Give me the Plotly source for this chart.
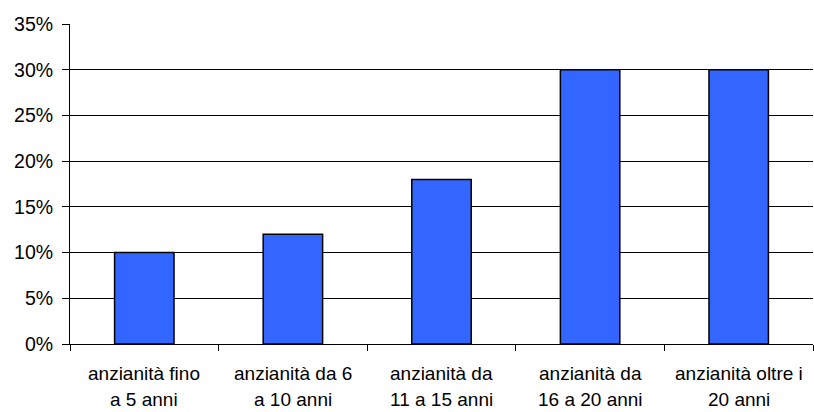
import plotly.graph_objects as go

cat_line1 = ["anzianità fino", "anzianità da 6", "anzianità da", "anzianità da", "anzianità oltre i"]
cat_line2 = ["a 5 anni", "a 10 anni", "11 a 15 anni", "16 a 20 anni", "20 anni"]
values = [0.10, 0.12, 0.18, 0.30, 0.30]
y_ticks = [0, 0.05, 0.10, 0.15, 0.20, 0.25, 0.30, 0.35]
y_labels = ["0%", "5%", "10%", "15%", "20%", "25%", "30%", "35%"]

xs = list(range(len(values)))
FONT = "Liberation Sans, Arial"

fig = go.Figure(go.Bar(
    x=xs, y=values, width=0.4,
    marker=dict(color="#3366FF", line=dict(color="#000000", width=1.5)),
    hoverinfo="skip",
))

annotations = []
for i, (a, b) in enumerate(zip(cat_line1, cat_line2)):
    annotations.append(dict(x=i, y=0, xref="x", yref="paper", text=a, showarrow=False,
                            yanchor="middle", xanchor="center", yshift=-29,
                            font=dict(size=19, family=FONT, color="black")))
    annotations.append(dict(x=i, y=0, xref="x", yref="paper", text=b, showarrow=False,
                            yanchor="middle", xanchor="center", yshift=-55,
                            font=dict(size=19, family=FONT, color="black")))

fig.update_layout(
    width=814, height=412,
    margin=dict(l=70, r=1, t=24, b=68, autoexpand=False),
    paper_bgcolor="white", plot_bgcolor="white",
    showlegend=False,
    font=dict(family=FONT, color="black"),
    annotations=annotations,
)
fig.update_xaxes(
    range=[-0.5, 4.5], tickmode="array", tickvals=[-0.5, 0.5, 1.5, 2.5, 3.5, 4.5],
    showticklabels=False, ticks="outside", ticklen=6, tickcolor="black",
    showgrid=False, showline=True, linecolor="black", linewidth=1,
    zeroline=False, automargin=False,
)
fig.update_yaxes(
    range=[0, 0.35], tickmode="array", tickvals=y_ticks, ticktext=y_labels,
    tickfont=dict(size=19.5), showgrid=True, gridcolor="black", gridwidth=1,
    showline=True, linecolor="black", linewidth=1, ticks="outside", ticklen=7, tickcolor="black",
    ticklabelstandoff=5, zeroline=False, automargin=False,
)
fig.write_html("out.html", config={"displayModeBar": False},
               post_script="document.body.style.margin='0';document.body.style.overflow='hidden';")
